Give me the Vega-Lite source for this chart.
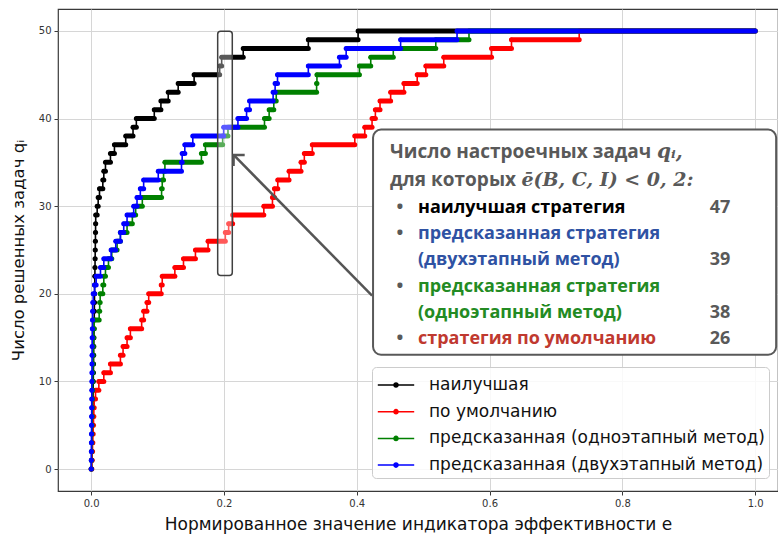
{
  "$schema": "https://vega.github.io/schema/vega-lite/v6.json",
  "width": 720,
  "height": 482,
  "autosize": {"type": "none"},
  "padding": {"left": 58, "top": 9, "right": 0, "bottom": 44},
  "background": "white",
  "config": {
    "view": {"stroke": "#3a3a3a", "strokeWidth": 1.2},
    "axis": {"grid": true, "gridColor": "#d6d6d6", "gridWidth": 1, "domain": false, "tickColor": "#3a3a3a", "tickSize": 4, "labelFont": "DejaVu Sans", "labelFontSize": 10, "labelColor": "#333333", "titleFont": "DejaVu Sans", "titleFontSize": 17, "titleFontWeight": "normal", "titleColor": "#111111"},
    "text": {"font": "Open Sans", "fontWeight": "bold", "fontSize": 18, "baseline": "alphabetic", "align": "left", "color": "#595959"}
  },
  "layer": [
    {
      "data": {"values": [
        {"s":"k","q":0,"e":0},{"s":"k","q":1,"e":0.0005},{"s":"k","q":2,"e":0.001},{"s":"k","q":3,"e":0.0013},{"s":"k","q":4,"e":0.0016},{"s":"k","q":5,"e":0.0019},{"s":"k","q":6,"e":0.0022},{"s":"k","q":7,"e":0.0024},{"s":"k","q":8,"e":0.0026},{"s":"k","q":9,"e":0.0028},{"s":"k","q":10,"e":0.003},{"s":"k","q":11,"e":0.0032},{"s":"k","q":12,"e":0.0034},{"s":"k","q":13,"e":0.0036},{"s":"k","q":14,"e":0.0038},{"s":"k","q":15,"e":0.004},{"s":"k","q":16,"e":0.0042},{"s":"k","q":17,"e":0.0044},{"s":"k","q":18,"e":0.0046},{"s":"k","q":19,"e":0.0048},{"s":"k","q":20,"e":0.005},{"s":"k","q":21,"e":0.0052},{"s":"k","q":22,"e":0.0054},{"s":"k","q":23,"e":0.0056},{"s":"k","q":24,"e":0.0058},{"s":"k","q":25,"e":0.006},{"s":"k","q":26,"e":0.0062},{"s":"k","q":27,"e":0.0064},{"s":"k","q":28,"e":0.0066},{"s":"k","q":29,"e":0.0068},{"s":"k","q":30,"e":0.009},{"s":"k","q":31,"e":0.0105},{"s":"k","q":32,"e":0.0125},{"s":"k","q":33,"e":0.0175},{"s":"k","q":34,"e":0.019},{"s":"k","q":35,"e":0.0215},{"s":"k","q":36,"e":0.029},{"s":"k","q":37,"e":0.035},{"s":"k","q":38,"e":0.052},{"s":"k","q":39,"e":0.063},{"s":"k","q":40,"e":0.068},{"s":"k","q":41,"e":0.095},{"s":"k","q":42,"e":0.105},{"s":"k","q":43,"e":0.116},{"s":"k","q":44,"e":0.131},{"s":"k","q":45,"e":0.155},{"s":"k","q":46,"e":0.1935},{"s":"k","q":47,"e":0.1965},{"s":"k","q":48,"e":0.229},{"s":"k","q":49,"e":0.327},{"s":"k","q":50,"e":0.402},{"s":"k","q":50,"e":1.0},
        {"s":"r","q":0,"e":0},{"s":"r","q":1,"e":0.001},{"s":"r","q":2,"e":0.0015},{"s":"r","q":3,"e":0.002},{"s":"r","q":4,"e":0.0025},{"s":"r","q":5,"e":0.003},{"s":"r","q":6,"e":0.0035},{"s":"r","q":7,"e":0.004},{"s":"r","q":8,"e":0.0045},{"s":"r","q":9,"e":0.0065},{"s":"r","q":10,"e":0.0115},{"s":"r","q":11,"e":0.019},{"s":"r","q":12,"e":0.029},{"s":"r","q":13,"e":0.044},{"s":"r","q":14,"e":0.048},{"s":"r","q":15,"e":0.054},{"s":"r","q":16,"e":0.059},{"s":"r","q":17,"e":0.076},{"s":"r","q":18,"e":0.079},{"s":"r","q":19,"e":0.084},{"s":"r","q":20,"e":0.0866},{"s":"r","q":21,"e":0.1055},{"s":"r","q":22,"e":0.107},{"s":"r","q":23,"e":0.126},{"s":"r","q":24,"e":0.139},{"s":"r","q":25,"e":0.157},{"s":"r","q":26,"e":0.176},{"s":"r","q":27,"e":0.202},{"s":"r","q":28,"e":0.207},{"s":"r","q":29,"e":0.213},{"s":"r","q":30,"e":0.26},{"s":"r","q":31,"e":0.273},{"s":"r","q":32,"e":0.276},{"s":"r","q":33,"e":0.281},{"s":"r","q":34,"e":0.298},{"s":"r","q":35,"e":0.316},{"s":"r","q":36,"e":0.321},{"s":"r","q":37,"e":0.333},{"s":"r","q":38,"e":0.397},{"s":"r","q":39,"e":0.412},{"s":"r","q":40,"e":0.423},{"s":"r","q":41,"e":0.428},{"s":"r","q":42,"e":0.435},{"s":"r","q":43,"e":0.451},{"s":"r","q":44,"e":0.471},{"s":"r","q":45,"e":0.491},{"s":"r","q":46,"e":0.504},{"s":"r","q":47,"e":0.531},{"s":"r","q":48,"e":0.603},{"s":"r","q":49,"e":0.633},{"s":"r","q":50,"e":0.735},{"s":"r","q":50,"e":1.0},
        {"s":"g","q":0,"e":0},{"s":"g","q":1,"e":0.0004},{"s":"g","q":2,"e":0.0006},{"s":"g","q":3,"e":0.0008},{"s":"g","q":4,"e":0.001},{"s":"g","q":5,"e":0.0012},{"s":"g","q":6,"e":0.0014},{"s":"g","q":7,"e":0.0016},{"s":"g","q":8,"e":0.0018},{"s":"g","q":9,"e":0.002},{"s":"g","q":10,"e":0.0022},{"s":"g","q":11,"e":0.0024},{"s":"g","q":12,"e":0.0026},{"s":"g","q":13,"e":0.0028},{"s":"g","q":14,"e":0.003},{"s":"g","q":15,"e":0.0033},{"s":"g","q":16,"e":0.0036},{"s":"g","q":17,"e":0.0045},{"s":"g","q":18,"e":0.012},{"s":"g","q":19,"e":0.0128},{"s":"g","q":20,"e":0.0135},{"s":"g","q":21,"e":0.0175},{"s":"g","q":22,"e":0.019},{"s":"g","q":23,"e":0.0215},{"s":"g","q":24,"e":0.026},{"s":"g","q":25,"e":0.031},{"s":"g","q":26,"e":0.039},{"s":"g","q":27,"e":0.044},{"s":"g","q":28,"e":0.054},{"s":"g","q":29,"e":0.062},{"s":"g","q":30,"e":0.067},{"s":"g","q":31,"e":0.077},{"s":"g","q":32,"e":0.106},{"s":"g","q":33,"e":0.107},{"s":"g","q":34,"e":0.109},{"s":"g","q":35,"e":0.111},{"s":"g","q":36,"e":0.166},{"s":"g","q":37,"e":0.172},{"s":"g","q":38,"e":0.198},{"s":"g","q":39,"e":0.206},{"s":"g","q":40,"e":0.261},{"s":"g","q":41,"e":0.268},{"s":"g","q":42,"e":0.275},{"s":"g","q":43,"e":0.2787},{"s":"g","q":44,"e":0.3395},{"s":"g","q":45,"e":0.34},{"s":"g","q":46,"e":0.404},{"s":"g","q":47,"e":0.421},{"s":"g","q":48,"e":0.455},{"s":"g","q":49,"e":0.519},{"s":"g","q":50,"e":0.569},{"s":"g","q":50,"e":1.0},
        {"s":"b","q":0,"e":0},{"s":"b","q":1,"e":0.0001},{"s":"b","q":2,"e":0.0002},{"s":"b","q":3,"e":0.0003},{"s":"b","q":4,"e":0.0004},{"s":"b","q":5,"e":0.0005},{"s":"b","q":6,"e":0.0006},{"s":"b","q":7,"e":0.0007},{"s":"b","q":8,"e":0.0008},{"s":"b","q":9,"e":0.0009},{"s":"b","q":10,"e":0.001},{"s":"b","q":11,"e":0.0011},{"s":"b","q":12,"e":0.0012},{"s":"b","q":13,"e":0.0013},{"s":"b","q":14,"e":0.0014},{"s":"b","q":15,"e":0.0015},{"s":"b","q":16,"e":0.0017},{"s":"b","q":17,"e":0.0019},{"s":"b","q":18,"e":0.0021},{"s":"b","q":19,"e":0.0024},{"s":"b","q":20,"e":0.003},{"s":"b","q":21,"e":0.005},{"s":"b","q":22,"e":0.0075},{"s":"b","q":23,"e":0.014},{"s":"b","q":24,"e":0.019},{"s":"b","q":25,"e":0.03},{"s":"b","q":26,"e":0.037},{"s":"b","q":27,"e":0.044},{"s":"b","q":28,"e":0.049},{"s":"b","q":29,"e":0.054},{"s":"b","q":30,"e":0.064},{"s":"b","q":31,"e":0.069},{"s":"b","q":32,"e":0.074},{"s":"b","q":33,"e":0.079},{"s":"b","q":34,"e":0.101},{"s":"b","q":35,"e":0.136},{"s":"b","q":36,"e":0.137},{"s":"b","q":37,"e":0.141},{"s":"b","q":38,"e":0.153},{"s":"b","q":39,"e":0.1995},{"s":"b","q":40,"e":0.221},{"s":"b","q":41,"e":0.234},{"s":"b","q":42,"e":0.2385},{"s":"b","q":43,"e":0.274},{"s":"b","q":44,"e":0.277},{"s":"b","q":45,"e":0.2806},{"s":"b","q":46,"e":0.327},{"s":"b","q":47,"e":0.3739},{"s":"b","q":48,"e":0.384},{"s":"b","q":49,"e":0.466},{"s":"b","q":50,"e":0.551},{"s":"b","q":50,"e":1.0}
      ]},
      "transform": [
        {"window": [{"op": "lead", "field": "e", "as": "e2"}], "groupby": ["s"], "sort": [{"field": "e", "order": "ascending"}]}
      ],
      "encoding": {
        "x": {"field": "e", "type": "quantitative", "scale": {"domain": [-0.05, 1.0344], "nice": false, "zero": false},
              "axis": {"values": [0, 0.2, 0.4, 0.6, 0.8, 1.0], "format": ".1f", "labelPadding": 3, "titlePadding": 8, "title": "Нормированное значение индикатора эффективности e"}},
        "y": {"field": "q", "type": "quantitative", "scale": {"domain": [-2.5, 52.5], "nice": false, "zero": false},
              "axis": {"values": [0, 10, 20, 30, 40, 50], "labelPadding": 3, "titlePadding": 12, "titleFontSize": 16.5, "title": "Число решенных задач qᵢ"}},
        "color": {"field": "s", "type": "nominal",
                  "scale": {"domain": ["k", "r", "g", "b"], "range": ["#000000", "#ff0000", "#008000", "#0000ff"]},
                  "legend": {"orient": "none", "legendX": 314, "legendY": 358, "title": null,
                             "labelExpr": "{'k':'наилучшая','r':'по умолчанию','g':'предсказанная (одноэтапный метод)','b':'предсказанная (двухэтапный метод)'}[datum.value]",
                             "symbolType": "M-1.4,0H1.4M-0.16,0A0.16,0.16 0 1,0 0.16,0A0.16,0.16 0 1,0 -0.16,0",
                             "symbolSize": 676, "symbolStrokeWidth": 1.5, "symbolOffset": 6,
                             "labelFont": "DejaVu Sans", "labelFontSize": 17, "labelColor": "#111111", "labelLimit": 500, "labelOffset": 19,
                             "fillColor": "rgba(255,255,255,0.85)", "strokeColor": "#cccccc", "cornerRadius": 4, "padding": 4, "rowPadding": 4.7,
                             "encode": {"symbols": {"update": {"fill": {"signal": "scale('color', datum.value)"}, "stroke": {"signal": "scale('color', datum.value)"}}}}}}
      },
      "layer": [
        {"transform": [{"filter": "datum.s === 'k'"}], "layer": [
          {"transform": [{"filter": "datum.e2 != null"}], "mark": {"type": "rule", "strokeWidth": 5, "strokeCap": "round"}, "encoding": {"x2": {"field": "e2"}}},
          {"mark": {"type": "line", "interpolate": "step-after", "strokeWidth": 1.6}},
          {"mark": {"type": "point", "filled": true, "size": 18, "opacity": 1}}
        ]},
        {"transform": [{"filter": "datum.s === 'r'"}], "layer": [
          {"transform": [{"filter": "datum.e2 != null"}], "mark": {"type": "rule", "strokeWidth": 5, "strokeCap": "round"}, "encoding": {"x2": {"field": "e2"}}},
          {"mark": {"type": "line", "interpolate": "step-after", "strokeWidth": 1.6}},
          {"mark": {"type": "point", "filled": true, "size": 18, "opacity": 1}}
        ]},
        {"transform": [{"filter": "datum.s === 'g'"}], "layer": [
          {"transform": [{"filter": "datum.e2 != null"}], "mark": {"type": "rule", "strokeWidth": 5, "strokeCap": "round"}, "encoding": {"x2": {"field": "e2"}}},
          {"mark": {"type": "line", "interpolate": "step-after", "strokeWidth": 1.6}},
          {"mark": {"type": "point", "filled": true, "size": 18, "opacity": 1}}
        ]},
        {"transform": [{"filter": "datum.s === 'b'"}], "layer": [
          {"transform": [{"filter": "datum.e2 != null"}], "mark": {"type": "rule", "strokeWidth": 5, "strokeCap": "round"}, "encoding": {"x2": {"field": "e2"}}},
          {"mark": {"type": "line", "interpolate": "step-after", "strokeWidth": 1.6}},
          {"mark": {"type": "point", "filled": true, "size": 18, "opacity": 1}}
        ]}
      ]
    },
    {
      "data": {"values": [{}]},
      "mark": {"type": "rect", "fill": "#ffffff", "fillOpacity": 0.35, "stroke": "#404040", "strokeWidth": 1.5, "cornerRadius": 3},
      "encoding": {"x": {"datum": 0.1905, "type": "quantitative"}, "x2": {"datum": 0.2125}, "y": {"datum": 49.95, "type": "quantitative"}, "y2": {"datum": 22.1}}
    },
    {
      "data": {"values": [{}]},
      "mark": {"type": "rule", "color": "#555555", "strokeWidth": 2.5},
      "encoding": {"x": {"datum": 0.423, "type": "quantitative"}, "y": {"datum": 19.8, "type": "quantitative"}, "x2": {"datum": 0.2145}, "y2": {"datum": 35.85}}
    },
    {
      "data": {"values": [{}]},
      "mark": {"type": "point", "shape": "M-0.7,0.7L0,0L0.7,0.7", "filled": false, "size": 500, "color": "#555555", "strokeWidth": 2.5, "opacity": 1, "angle": 315.4},
      "encoding": {"x": {"datum": 0.2145, "type": "quantitative"}, "y": {"datum": 35.85, "type": "quantitative"}}
    },
    {
      "data": {"values": [{}]},
      "mark": {"type": "rect", "fill": "#ffffff", "stroke": "#595959", "strokeWidth": 2, "cornerRadius": 8},
      "encoding": {"x": {"datum": 0.4245, "type": "quantitative"}, "x2": {"datum": 1.0316}, "y": {"datum": 38.74, "type": "quantitative"}, "y2": {"datum": 13.05}}
    },
    {
      "data": {"values": [{}]},
      "mark": {"type": "text", "text": "Число настроечных задач", "fontSize": 19},
      "encoding": {"x": {"datum": 0.45, "type": "quantitative"}, "y": {"datum": 35.5, "type": "quantitative"}}
    },
    {
      "data": {"values": [{}]},
      "mark": {"type": "text", "text": "qᵢ,", "font": "DejaVu Serif", "fontStyle": "italic", "fontSize": 20},
      "encoding": {"x": {"datum": 0.852, "type": "quantitative"}, "y": {"datum": 35.5, "type": "quantitative"}}
    },
    {
      "data": {"values": [{}]},
      "mark": {"type": "text", "text": "для которых", "fontSize": 19},
      "encoding": {"x": {"datum": 0.45, "type": "quantitative"}, "y": {"datum": 32.26, "type": "quantitative"}}
    },
    {
      "data": {"values": [{}]},
      "mark": {"type": "text", "text": "ē(B, C, I) < 0, 2:", "font": "DejaVu Serif", "fontStyle": "italic", "fontSize": 19},
      "encoding": {"x": {"datum": 0.648, "type": "quantitative"}, "y": {"datum": 32.26, "type": "quantitative"}}
    },
    {
      "data": {"values": [{}]},
      "mark": {"type": "text", "text": "•", "align": "center"},
      "encoding": {"x": {"datum": 0.4651, "type": "quantitative"}, "y": {"datum": 29.22, "type": "quantitative"}}
    },
    {
      "data": {"values": [{}]},
      "mark": {"type": "text", "text": "•", "align": "center"},
      "encoding": {"x": {"datum": 0.4651, "type": "quantitative"}, "y": {"datum": 26.23, "type": "quantitative"}}
    },
    {
      "data": {"values": [{}]},
      "mark": {"type": "text", "text": "•", "align": "center"},
      "encoding": {"x": {"datum": 0.4651, "type": "quantitative"}, "y": {"datum": 20.25, "type": "quantitative"}}
    },
    {
      "data": {"values": [{}]},
      "mark": {"type": "text", "text": "•", "align": "center"},
      "encoding": {"x": {"datum": 0.4651, "type": "quantitative"}, "y": {"datum": 14.27, "type": "quantitative"}}
    },
    {
      "data": {"values": [{}]},
      "mark": {"type": "text", "text": "наилучшая стратегия", "color": "#000000"},
      "encoding": {"x": {"datum": 0.4922, "type": "quantitative"}, "y": {"datum": 29.22, "type": "quantitative"}}
    },
    {
      "data": {"values": [{}]},
      "mark": {"type": "text", "text": ["предсказанная стратегия", "(двухэтапный метод)"], "lineHeight": 26.2, "color": "#2f52a3"},
      "encoding": {"x": {"datum": 0.4922, "type": "quantitative"}, "y": {"datum": 26.23, "type": "quantitative"}}
    },
    {
      "data": {"values": [{}]},
      "mark": {"type": "text", "text": ["предсказанная стратегия", "(одноэтапный метод)"], "lineHeight": 26.2, "color": "#238b23"},
      "encoding": {"x": {"datum": 0.4922, "type": "quantitative"}, "y": {"datum": 20.25, "type": "quantitative"}}
    },
    {
      "data": {"values": [{}]},
      "mark": {"type": "text", "text": "стратегия по умолчанию", "color": "#c0392f"},
      "encoding": {"x": {"datum": 0.4922, "type": "quantitative"}, "y": {"datum": 14.27, "type": "quantitative"}}
    },
    {
      "data": {"values": [{}]},
      "mark": {"type": "text", "text": "47", "align": "right"},
      "encoding": {"x": {"datum": 0.9625, "type": "quantitative"}, "y": {"datum": 29.22, "type": "quantitative"}}
    },
    {
      "data": {"values": [{}]},
      "mark": {"type": "text", "text": "39", "align": "right"},
      "encoding": {"x": {"datum": 0.9625, "type": "quantitative"}, "y": {"datum": 23.24, "type": "quantitative"}}
    },
    {
      "data": {"values": [{}]},
      "mark": {"type": "text", "text": "38", "align": "right"},
      "encoding": {"x": {"datum": 0.9625, "type": "quantitative"}, "y": {"datum": 17.26, "type": "quantitative"}}
    },
    {
      "data": {"values": [{}]},
      "mark": {"type": "text", "text": "26", "align": "right"},
      "encoding": {"x": {"datum": 0.9625, "type": "quantitative"}, "y": {"datum": 14.27, "type": "quantitative"}}
    }
  ]
}
